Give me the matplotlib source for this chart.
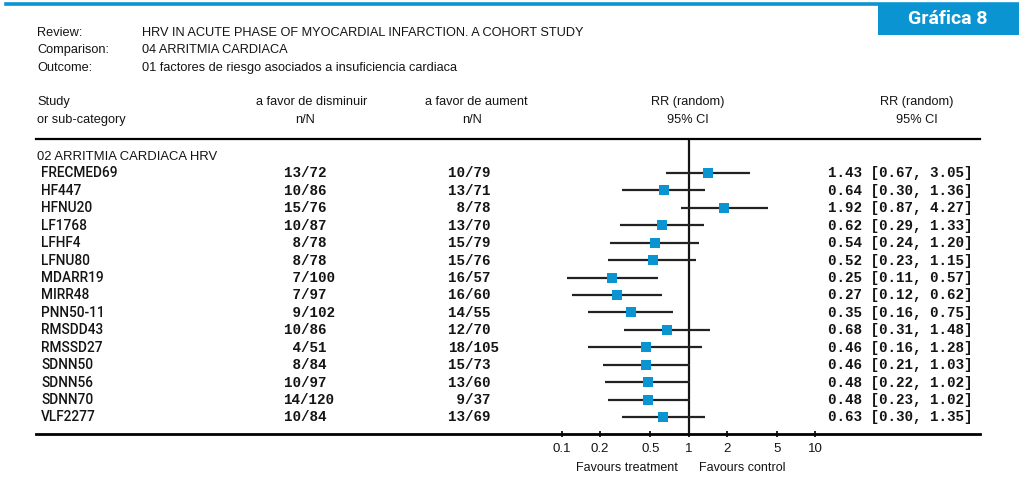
import matplotlib
matplotlib.use("Agg")
import matplotlib.pyplot as plt
from matplotlib.transforms import blended_transform_factory
from matplotlib.patches import Rectangle
from matplotlib.lines import Line2D

# ---- data ----
studies = ["FRECMED69", "HF447", "HFNU20", "LF1768", "LFHF4", "LFNU80", "MDARR19",
           "MIRR48", "PNN50-11", "RMSDD43", "RMSSD27", "SDNN50", "SDNN56", "SDNN70", "VLF2277"]
ev_dis = [13, 10, 15, 10, 8, 8, 7, 7, 9, 10, 4, 8, 10, 14, 10]
n_dis = [72, 86, 76, 87, 78, 78, 100, 97, 102, 86, 51, 84, 97, 120, 84]
ev_aum = [10, 13, 8, 13, 15, 15, 16, 16, 14, 12, 18, 15, 13, 9, 13]
n_aum = [79, 71, 78, 70, 79, 76, 57, 60, 55, 70, 105, 73, 60, 37, 69]
rr = [1.43, 0.64, 1.92, 0.62, 0.54, 0.52, 0.25, 0.27, 0.35, 0.68, 0.46, 0.46, 0.48, 0.48, 0.63]
ci_lo = [0.67, 0.30, 0.87, 0.29, 0.24, 0.23, 0.11, 0.12, 0.16, 0.31, 0.16, 0.21, 0.22, 0.23, 0.30]
ci_hi = [3.05, 1.36, 4.27, 1.33, 1.20, 1.15, 0.57, 0.62, 0.75, 1.48, 1.28, 1.03, 1.02, 1.02, 1.35]
tick_vals = [0.1, 0.2, 0.5, 1, 2, 5, 10]
tick_labels = ["0.1", "0.2", "0.5", "1", "2", "5", "10"]

BLUE = "#0a94d2"
INK = "#141414"
SANS = ["Liberation Sans", "DejaVu Sans"]
ROW_FONT = ["Roboto", "Liberation Sans", "DejaVu Sans"]
NARROW = ["Liberation Sans Narrow", "Liberation Sans", "DejaVu Sans"]
MONO = ["Liberation Mono", "DejaVu Sans Mono"]

W, H = 1019, 484
fig = plt.figure(figsize=(W / 100, H / 100), dpi=100)
fig.patch.set_facecolor("white")


def fx(x):
    return x / W


def fy(y):
    return 1 - y / H


# ---- banner ----
fig.add_artist(Line2D([fx(6), fx(W)], [fy(3.5), fy(3.5)], color=BLUE, lw=2.6,
                      transform=fig.transFigure))
fig.add_artist(Rectangle((fx(878), fy(35)), fx(W) - fx(878), fy(4) - fy(35),
                         transform=fig.transFigure, color=BLUE, lw=0))
fig.text(fx(948), fy(19.5), "Gráfica 8", color="white", fontsize=14,
         fontweight="bold", family=["Roboto", "DejaVu Sans"], ha="center", va="center")

# ---- review info ----
info = [("Review:", "HRV IN ACUTE PHASE OF MYOCARDIAL INFARCTION. A COHORT STUDY", 33),
        ("Comparison:", "04 ARRITMIA CARDIACA", 50),
        ("Outcome:", "01 factores de riesgo asociados a insuficiencia cardiaca", 68)]
for lab, val, y in info:
    fig.text(fx(37), fy(y), lab, fontsize=9.2, family=NARROW, color=INK, va="center")
    fig.text(fx(142), fy(y), val, fontsize=9.2, family=NARROW, color=INK, va="center")

# ---- column headers ----
hdr = dict(fontsize=9.2, family=NARROW, color=INK, va="center")
fig.text(fx(37), fy(102), "Study", **hdr)
fig.text(fx(37), fy(120), "or sub-category", **hdr)
fig.text(fx(312), fy(102), "a favor de disminuir", ha="center", **hdr)
fig.text(fx(305), fy(120), "n/N", ha="center", **hdr)
fig.text(fx(476), fy(102), "a favor de aument", ha="center", **hdr)
fig.text(fx(472), fy(120), "n/N", ha="center", **hdr)
fig.text(fx(688), fy(102), "RR (random)", ha="center", **hdr)
fig.text(fx(688), fy(120), "95% CI", ha="center", **hdr)
fig.text(fx(917), fy(102), "RR (random)", ha="center", **hdr)
fig.text(fx(917), fy(120), "95% CI", ha="center", **hdr)

# ---- forest axes ----
ax_l, ax_r, ax_t, ax_b = 36, 980, 139, 434
ax = fig.add_axes([fx(ax_l), fy(ax_b), fx(ax_r) - fx(ax_l), fy(ax_t) - fy(ax_b)])
x01, x10 = 562, 815
dec = (x10 - x01) / 2.0
ax.set_xscale("log")
ax.set_xlim(10 ** (-1 - (x01 - ax_l) / dec), 10 ** (1 + (ax_r - x10) / dec))
row0, step = 173, 17.43
ax.set_ylim((ax_b - row0) / step, (ax_t - row0) / step)
ax.patch.set_alpha(0)

for s in ["left", "right"]:
    ax.spines[s].set_visible(False)
ax.spines["bottom"].set_linewidth(2.0)
ax.spines["top"].set_linewidth(1.6)
ax.set_yticks([])
ax.set_xticks(tick_vals)
ax.set_xticklabels(tick_labels)
ax.xaxis.set_minor_locator(matplotlib.ticker.NullLocator())
ax.tick_params(axis="x", direction="inout", length=5, width=1.2, pad=4,
               labelsize=9.5, labelcolor=INK)
for t in ax.get_xticklabels():
    t.set_family(SANS)

ax.axvline(1, color=INK, lw=1.6, zorder=2)

rows = list(range(len(studies)))
ax.hlines(rows, ci_lo, ci_hi, color="#222222", lw=1.6, zorder=3)
ax.plot(rr, rows, linestyle="none", marker="s", markersize=7.5,
        color=BLUE, markeredgewidth=0, zorder=4)

# ---- table text (baseline placed so caps sit centred on each row) ----
tr = blended_transform_factory(fig.transFigure, ax.transData)
base = 4.4 / step
ax.text(fx(37), -1 + base, "02 ARRITMIA CARDIACA HRV", transform=tr, fontsize=9.4,
        family=SANS, color=INK, va="baseline")
mono = dict(transform=tr, fontsize=10.3, family=MONO, fontweight="bold",
            color=INK, va="baseline")
for i, name in enumerate(studies):
    ax.text(fx(41), i + base, name, transform=tr, fontsize=9.8, family=ROW_FONT,
            fontweight="medium", color=INK, va="baseline")
    ax.text(fx(283.5), i + base, f"{ev_dis[i]:>2}/{n_dis[i]:<3}", **mono)
    ax.text(fx(448.5), i + base, f"{ev_aum[i]:>2}/{n_aum[i]:<3}", **mono)
    ax.text(fx(828), i + base, f"{rr[i]:.2f} [{ci_lo[i]:.2f}, {ci_hi[i]:.2f}]", **mono)

# ---- favours labels ----
fig.text(fx(678), fy(468), "Favours treatment", ha="right", va="center",
         fontsize=9, family=SANS, color=INK)
fig.text(fx(699), fy(468), "Favours control", ha="left", va="center",
         fontsize=9, family=SANS, color=INK)

fig.savefig("out.png", dpi=100, facecolor="white")
